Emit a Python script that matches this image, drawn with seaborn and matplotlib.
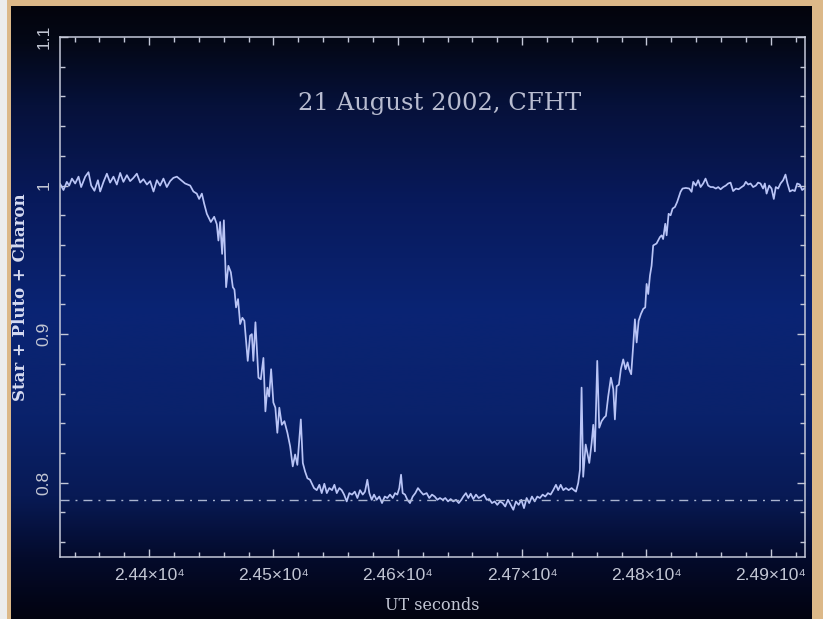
import numpy as np
import pandas as pd
import matplotlib
matplotlib.use("Agg")
import matplotlib.pyplot as plt
import seaborn as sns
from matplotlib.colors import LinearSegmentedColormap
from matplotlib.patches import Rectangle
from matplotlib.ticker import MultipleLocator, FixedLocator, FixedFormatter

# ---------------- data ----------------
ut_seconds = [
    24328.5, 24331.1, 24333.8, 24335.7, 24337.9, 24340.5, 24343.2, 24345.3, 24348.6, 24351.2,
    24353.4, 24356.0, 24358.8, 24360.6, 24363.3, 24366.0, 24368.6, 24371.3, 24374.0, 24376.7,
    24379.3, 24382.1, 24384.7, 24387.4, 24390.1, 24392.8, 24395.4, 24398.2, 24400.8, 24403.5,
    24406.2, 24408.8, 24411.5, 24414.2, 24416.9, 24419.5, 24422.3, 24425.7, 24428.9, 24433.0,
    24435.6, 24438.3, 24440.2, 24442.4, 24444.2,
    24446.4, 24449.6, 24452.3, 24454.4, 24455.7, 24457.1, 24458.7, 24460.1, 24461.9, 24463.7,
    24465.7, 24467.3, 24468.6, 24469.9, 24471.5, 24473.2, 24475.0, 24476.6, 24479.3, 24481.2,
    24482.6, 24483.8, 24485.5, 24487.9, 24489.8, 24491.9, 24493.5, 24495.1, 24496.5, 24498.1,
    24499.9, 24501.5, 24503.1, 24504.7, 24506.7, 24508.8, 24511.2, 24513.4, 24515.5, 24517.4,
    24519.2, 24522.0, 24523.6, 24525.4, 24527.3, 24529.4,
    24532.6, 24534.8, 24536.9, 24538.8, 24540.9, 24542.9, 24544.9, 24547.1, 24549.0, 24550.9,
    24553.0, 24554.9, 24556.8, 24558.9, 24561.0, 24563.2, 24565.4, 24567.5, 24569.6, 24571.8,
    24573.6, 24575.5, 24577.1, 24579.0, 24580.9, 24583.0, 24585.1, 24587.3, 24589.5, 24591.6,
    24593.7, 24595.9, 24597.8, 24599.6, 24601.2, 24602.6, 24603.9, 24605.8, 24607.7, 24609.8,
    24612.0, 24614.1, 24616.2, 24618.4, 24620.5, 24623.2, 24625.3, 24627.5, 24629.7, 24631.8,
    24633.9, 24636.1, 24638.2, 24640.4, 24642.5, 24644.6, 24646.8, 24649.0, 24651.1, 24652.7,
    24654.8, 24656.7, 24658.6, 24660.7, 24662.9, 24665.0, 24667.1, 24669.3, 24671.5, 24673.6,
    24675.7, 24677.9, 24680.0, 24682.2, 24684.3, 24686.4, 24688.6, 24690.8, 24692.9, 24695.0,
    24697.2, 24699.3, 24701.5, 24703.6, 24705.7, 24707.9, 24710.1, 24712.2, 24714.3, 24716.5,
    24718.6, 24720.8, 24722.9, 24725.0, 24727.2, 24729.0, 24731.0, 24733.1, 24735.2, 24737.4,
    24739.8, 24741.7, 24743.3,
    24745.1, 24746.5, 24747.8, 24749.1, 24751.1, 24752.4, 24754.0, 24755.9, 24757.2, 24758.5,
    24760.4, 24762.0, 24763.9, 24765.8, 24767.4, 24769.2, 24771.4, 24773.3, 24774.6, 24776.0,
    24777.8, 24779.4, 24781.3, 24783.2, 24784.8, 24786.1, 24787.7, 24789.3, 24790.7, 24792.1,
    24793.7, 24795.5, 24797.4, 24799.0, 24800.1, 24801.4, 24802.8, 24804.1, 24805.4, 24808.1,
    24810.8, 24812.2, 24813.4, 24815.1, 24816.2, 24817.8, 24819.4, 24821.0, 24822.9, 24824.7,
    24827.4, 24829.0,
    24831.7, 24834.4, 24836.3, 24837.6, 24839.7, 24841.6, 24843.5, 24845.6, 24847.5, 24849.6,
    24851.6, 24853.6, 24855.8, 24857.7, 24859.6, 24861.7, 24863.8, 24865.7, 24867.6, 24869.7,
    24871.9, 24874.1, 24876.5, 24878.3, 24879.9, 24881.8, 24883.7, 24885.8, 24888.0, 24889.8,
    24891.7, 24893.8, 24895.2, 24896.6, 24898.7, 24900.6, 24902.4, 24904.0, 24905.9, 24907.8,
    24909.9, 24911.8, 24913.4, 24915.3, 24917.5, 24919.3, 24921.2, 24923.3, 24925.2, 24926.8,
]

normalized_flux = [
    1.0010, 0.9970, 1.0025, 1.0000, 1.0047, 1.0014, 1.0060, 0.9990, 1.0060, 1.0090,
    1.0000, 0.9965, 1.0036, 0.9960, 1.0025, 1.0080, 1.0020, 1.0060, 1.0007, 1.0085,
    1.0025, 1.0070, 1.0030, 1.0052, 1.0080, 1.0020, 1.0043, 1.0007, 1.0030, 0.9960,
    1.0036, 1.0000, 1.0047, 0.9990, 1.0030, 1.0052, 1.0060, 1.0036, 1.0014, 1.0000,
    0.9960, 0.9946, 0.9910, 0.9946, 0.9880,
    0.9810, 0.9755, 0.9790, 0.9740, 0.9630, 0.9755, 0.9540, 0.9766, 0.9316, 0.9460,
    0.9417, 0.9316, 0.9300, 0.9180, 0.9236, 0.9068, 0.9110, 0.9090, 0.8820, 0.8990,
    0.9000, 0.8820, 0.9080, 0.8707, 0.8696, 0.8840, 0.8480, 0.8640, 0.8580, 0.8764,
    0.8540, 0.8505, 0.8336, 0.8505, 0.8390, 0.8414, 0.8336, 0.8245, 0.8110, 0.8190,
    0.8120, 0.8426, 0.8133, 0.8076, 0.8030, 0.8020,
    0.7964, 0.7950, 0.7986, 0.7930, 0.7993, 0.7930, 0.7964, 0.7950, 0.7986, 0.7930,
    0.7964, 0.7950, 0.7920, 0.7874, 0.7930, 0.7920, 0.7940, 0.7897, 0.7950, 0.7920,
    0.7940, 0.8020, 0.7930, 0.7885, 0.7920, 0.7885, 0.7907, 0.7863, 0.7907, 0.7897,
    0.7920, 0.7897, 0.7930, 0.7920, 0.7964, 0.8054, 0.7930, 0.7920, 0.7885, 0.7863,
    0.7907, 0.7930, 0.7964, 0.7940, 0.7920, 0.7930, 0.7897, 0.7920, 0.7907, 0.7885,
    0.7897, 0.7885, 0.7897, 0.7874, 0.7890, 0.7874, 0.7885, 0.7863, 0.7885, 0.7907,
    0.7930, 0.7897, 0.7926, 0.7890, 0.7920, 0.7897, 0.7907, 0.7920, 0.7885, 0.7890,
    0.7863, 0.7874, 0.7851, 0.7874, 0.7863, 0.7840, 0.7885, 0.7851, 0.7818, 0.7874,
    0.7851, 0.7885, 0.7829, 0.7897, 0.7863, 0.7907, 0.7874, 0.7907, 0.7897, 0.7920,
    0.7907, 0.7930, 0.7920, 0.7950, 0.7986, 0.7950, 0.7986, 0.7950, 0.7964, 0.7950,
    0.7964, 0.7950, 0.7940,
    0.7998, 0.8088, 0.8640, 0.8040, 0.8257, 0.8200, 0.8133, 0.8268, 0.8390, 0.8211,
    0.8820, 0.8370, 0.8414, 0.8437, 0.8450, 0.8580, 0.8707, 0.8630, 0.8426, 0.8650,
    0.8660, 0.8764, 0.8830, 0.8764, 0.8810, 0.8764, 0.8730, 0.8920, 0.9100, 0.8944,
    0.9090, 0.9135, 0.9170, 0.9180, 0.9338, 0.9270, 0.9394, 0.9460, 0.9597, 0.9610,
    0.9653, 0.9665, 0.9640, 0.9743, 0.9665, 0.9810, 0.9800, 0.9845, 0.9856, 0.9890,
    0.9958, 0.9980,
    0.9984, 0.9980, 0.9958, 1.0025, 1.0000, 1.0036, 0.9990, 1.0014, 1.0047, 1.0000,
    0.9990, 0.9990, 0.9980, 0.9990, 0.9975, 0.9990, 1.0000, 1.0014, 1.0020, 0.9963,
    0.9980, 0.9975, 0.9990, 1.0000, 1.0025, 1.0007, 1.0014, 0.9990, 1.0000, 1.0020,
    1.0014, 0.9980, 1.0014, 0.9946, 1.0000, 0.9980, 0.9910, 0.9990, 0.9980, 1.0014,
    1.0036, 1.0074, 1.0014, 0.9960, 0.9970, 0.9963, 1.0014, 1.0007, 0.9970, 0.9980,
]

floor_level = 0.7885
title_text = "21 August 2002, CFHT"
x_label = "UT seconds"
y_label = "Star + Pluto + Charon"
x_major_ticks = [24400, 24500, 24600, 24700, 24800, 24900]
x_tick_labels = ["2.44×10⁴", "2.45×10⁴", "2.46×10⁴", "2.47×10⁴", "2.48×10⁴", "2.49×10⁴"]
y_major_ticks = [0.8, 0.9, 1.0, 1.1]
y_tick_labels = ["0.8", "0.9", "1", "1.1"]

df = pd.DataFrame({"t": ut_seconds, "f": normalized_flux})

# ---------------- figure ----------------
W, H = 823, 619
fig = plt.figure(figsize=(W / 100, H / 100), dpi=100)
fig.patch.set_facecolor("#dcb888")

# light strip at far left
fig.patches.append(Rectangle((0, 0), 7 / W, 1, transform=fig.transFigure,
                             facecolor="#ececec", edgecolor="none", zorder=0))

# gradient panel
bg = fig.add_axes([11 / W, 0, (812 - 11) / W, (H - 6) / H], zorder=0)
cmap = LinearSegmentedColormap.from_list("panel", [
    (0.00, "#03040c"),
    (0.06, "#040817"),
    (0.16, "#06113a"),
    (0.32, "#081a5c"),
    (0.50, "#0a2474"),
    (0.67, "#0a226b"),
    (0.80, "#081a55"),
    (0.90, "#040b2c"),
    (1.00, "#020310"),
])
grad = np.linspace(0, 1, 512).reshape(-1, 1)
bg.imshow(grad, aspect="auto", cmap=cmap, extent=[0, 1, 1, 0], interpolation="bicubic")
bg.set_axis_off()

ax = fig.add_axes([60 / W, (H - 557) / H, (805 - 60) / W, (557 - 37) / H], zorder=2)
ax.set_facecolor("none")

line_col = "#b9c4f6"
axis_col = "#c4c8d8"
text_col = "#c2c6d4"

sns.lineplot(data=df, x="t", y="f", ax=ax, color=line_col, linewidth=1.25,
             estimator=None, sort=False)
ax.axhline(floor_level, color="#aab4d0", linewidth=1.0, dashes=(6.5, 4.3, 1.4, 4.3))

ax.set_xlim(24328.3, 24927.5)
ax.set_ylim(0.75, 1.1)

for s in ax.spines.values():
    s.set_color(axis_col)
    s.set_linewidth(1.1)

ax.xaxis.set_major_locator(FixedLocator(x_major_ticks))
ax.xaxis.set_major_formatter(FixedFormatter(x_tick_labels))
ax.xaxis.set_minor_locator(MultipleLocator(20))
ax.yaxis.set_major_locator(FixedLocator(y_major_ticks))
ax.yaxis.set_major_formatter(FixedFormatter(y_tick_labels))
ax.yaxis.set_minor_locator(MultipleLocator(0.02))

ax.tick_params(which="both", direction="in", top=True, right=True,
               color=axis_col, width=1.0, labelcolor=text_col)
ax.tick_params(which="major", length=6)
ax.tick_params(which="minor", length=3.5)
ax.tick_params(axis="x", which="major", pad=8, labelsize=12.5)
ax.tick_params(axis="y", which="major", pad=6, labelsize=12.5)
for lab in ax.get_xticklabels():
    lab.set_family(["Liberation Sans", "DejaVu Sans"])
for lab in ax.get_yticklabels():
    lab.set_family(["Liberation Sans", "DejaVu Sans"])
    lab.set_rotation(90)
    lab.set_va("center")

ax.set_xlabel(x_label, family="DejaVu Serif", fontsize=11.5, color=text_col, labelpad=10)
ax.set_ylabel(y_label, family="DejaVu Serif", fontweight="bold", fontsize=12,
              color="#d6dbf2", labelpad=5.5)
ax.text(0.51, 0.873, title_text, transform=ax.transAxes, ha="center", va="center",
        family="DejaVu Serif", fontsize=17.5, color="#b8bcd0")

fig.savefig("out.png", dpi=100, facecolor=fig.get_facecolor())
